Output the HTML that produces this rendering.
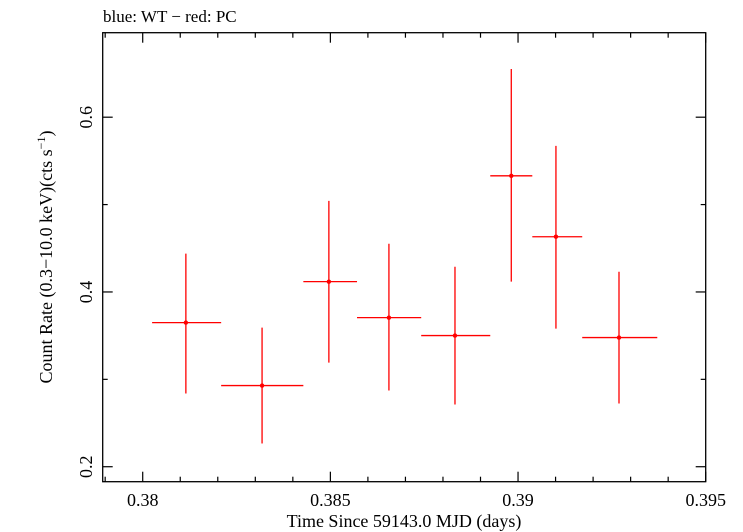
<!DOCTYPE html>
<html><head><meta charset="utf-8"><style>
html,body{margin:0;padding:0;background:#fff;}
svg{display:block;font-family:"Liberation Serif",serif;}
</style></head><body>
<svg id="chart" width="743" height="532" viewBox="0 0 743 532" xmlns="http://www.w3.org/2000/svg">
<text x="103" y="22" font-size="17">blue: WT − red: PC</text>
<rect x="102.7" y="32.7" width="603" height="449" fill="none" stroke="#000" stroke-width="1.3"/>
<g id="ticks"></g>
<g id="marks"></g>
<text x="404" y="527" font-size="18" text-anchor="middle">Time Since 59143.0 MJD (days)</text>
<text transform="translate(52,257) rotate(-90)" font-size="18" text-anchor="middle">Count Rate (0.3−10.0 keV)(cts s<tspan baseline-shift="super" font-size="12">−1</tspan>)</text>
</svg>
<script>
const times=[0.38115,0.38318,0.38496,0.38656,0.38832,0.38982,0.39101,0.39269];
const tLo=[0.38025,0.38209,0.38428,0.38571,0.38742,0.38926,0.39038,0.39171];
const tHi=[0.38209,0.38428,0.38571,0.38742,0.38926,0.39038,0.39171,0.39371];
const rates=[0.3649,0.2929,0.4118,0.3706,0.3501,0.5329,0.4632,0.3478];
const rateHi=[0.4438,0.3592,0.5043,0.4552,0.4289,0.6552,0.5672,0.4232];
const rateLo=[0.2838,0.2266,0.3192,0.2872,0.2712,0.4118,0.3581,0.2723];
const xTicks=[0.38,0.385,0.39,0.395];
const xTickLabels=["0.38","0.385","0.39","0.395"];
const yTicks=[0.2,0.4,0.6];
const yTickLabels=["0.2","0.4","0.6"];
const L=102.7,R=705.7,T=32.7,B=481.7;
const x0=0.378934,x1=0.395,y0=0.18286,y1=0.6967;
function sx(v){return L+(v-x0)/(x1-x0)*(R-L);}
function sy(v){return B-(v-y0)/(y1-y0)*(B-T);}
const NS="http://www.w3.org/2000/svg";
const tg=document.getElementById('ticks'),mg=document.getElementById('marks');
function line(g,a,b,c,d,col,w,name){const e=document.createElementNS(NS,'line');e.setAttribute('x1',a);e.setAttribute('y1',b);e.setAttribute('x2',c);e.setAttribute('y2',d);e.setAttribute('stroke',col);e.setAttribute('stroke-width',w);


g.appendChild(e);return e;}
function txt(g,x,y,s,anchor,rot,name){const e=document.createElementNS(NS,'text');e.setAttribute('x',x);e.setAttribute('y',y);e.setAttribute('font-size','18');e.setAttribute('text-anchor',anchor);if(rot)e.setAttribute('transform','rotate(-90 '+x+' '+y+')');e.textContent=s;


g.appendChild(e);}
for(let k=0;k<=16;k++){const v=0.379+k*0.001;if(v>x1+1e-9)break;const major=Math.abs(v/0.005-Math.round(v/0.005))<1e-6;const len=major?10:5;const px=sx(v);
line(tg,px,B,px,B-len,'#000',1.2,'x-tick');line(tg,px,T,px,T+len,'#000',1.2,'x-tick-top');}
xTicks.forEach((v,i)=>txt(tg,sx(v),506,xTickLabels[i],'middle',false,'x-tick-label'));
for(let k=0;k<=5;k++){const v=0.2+k*0.1;if(v>y1)break;const major=k%2===0;const len=major?10:5;const py=sy(v);
line(tg,L,py,L+len,py,'#000',1.2,'y-tick');line(tg,R,py,R-len,py,'#000',1.2,'y-tick-right');}
yTicks.forEach((v,i)=>txt(tg,92,sy(v),yTickLabels[i],'middle',true,'y-tick-label'));
times.forEach((t,i)=>{
line(mg,sx(tLo[i]),sy(rates[i]),sx(tHi[i]),sy(rates[i]),'#f00',1.3,'x-error-bar');
line(mg,sx(t),sy(rateLo[i]),sx(t),sy(rateHi[i]),'#f00',1.3,'y-error-bar');
const c=document.createElementNS(NS,'circle');c.setAttribute('cx',sx(t));c.setAttribute('cy',sy(rates[i]));c.setAttribute('r',2.2);c.setAttribute('fill','#f00');


mg.appendChild(c);});
</script>
</body></html>
